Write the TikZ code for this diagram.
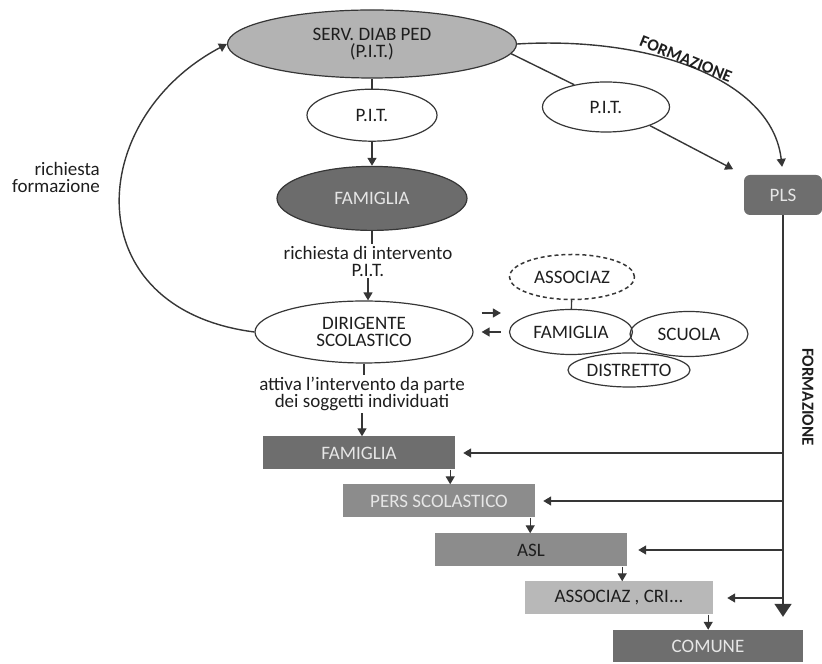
\documentclass[tikz,border=0pt]{standalone}
\usepackage{fontspec}
\setmainfont{Carlito}
\usetikzlibrary{shapes.geometric, arrows.meta, positioning}

\definecolor{lnc}{HTML}{363636}
\definecolor{servfill}{HTML}{B3B3B3}
\definecolor{darkfill}{HTML}{6C6C6C}
\definecolor{boxdark}{HTML}{6E6E6E}
\definecolor{boxmid}{HTML}{8C8C8C}
\definecolor{boxlight}{HTML}{B8B8B8}
\definecolor{lighttxt}{HTML}{E6E6E6}
\definecolor{txtdark}{HTML}{1E1E1E}

\begin{document}
\begin{tikzpicture}[
			x=1pt, y=1pt,
			font=\fontsize{19}{17}\selectfont,
			oval/.style={
				ellipse,
				draw=lnc,
				line width=1.2pt,
				inner sep=0pt,
				align=center,
				text=txtdark
			},
			box/.style={
				rectangle,
				minimum width=192pt,
				minimum height=33pt,
				inner sep=0pt,
				text=txtdark
			},
			arrow/.style={
				-{Triangle[length=8pt, width=9pt]},
				draw=lnc,
				line width=1.4pt
			},
			bigarrow/.style={
				-{Triangle[length=13pt, width=17pt]},
				draw=lnc,
				line width=1.8pt
			},
			link/.style={
				draw=lnc,
				line width=1.4pt
			},
			lbltext/.style={
				align=center,
				inner sep=2pt,
				text=txtdark
			}
			]
			
			\useasboundingbox (0,0) rectangle (822,664);
			
			% Central column
			\node[oval, fill=servfill, minimum width=289pt, minimum height=68pt] (serv) at (372,620) {SERV. DIAB PED\\(P.I.T.)};
			\node[oval, minimum width=130pt, minimum height=52pt, below=10pt of serv] (pit1) {P.I.T.};
			\node[oval, fill=darkfill, text=lighttxt, minimum width=190pt, minimum height=64pt, below=24pt of pit1] (fam1) {FAMIGLIA};
			\node[lbltext] (reqint) at (368,403) {richiesta di intervento\\P.I.T.};
			\node[oval, minimum width=218pt, minimum height=62pt] (dir) at (364,332) {DIRIGENTE\\SCOLASTICO};
			\node[lbltext] (attiva) at (362,270) {attiva l'intervento da parte\\dei soggetti individuati};
			
			\draw[link] (serv) -- (pit1);
			\draw[arrow] (pit1) -- (fam1);
			\draw[link] (fam1.south) -- (fam1.south |- reqint.north);
			\draw[arrow] (reqint.south) -- (reqint.south |- dir.north);
			\draw[link] (dir.south) -- (dir.south |- attiva.north);
			
			% Left loop
			\node[lbltext, anchor=east, align=right] (richform) at (102,487) {richiesta\\formazione};
			\draw[arrow] (dir.west) .. controls (75,355) and (85,545) .. (serv.west);
			
			% Right side
			\node[oval, minimum width=127pt, minimum height=50pt] (pit2) at (606,557) {P.I.T.};
			\node[box, fill=boxdark, text=lighttxt, rounded corners=6pt, minimum width=78pt, minimum height=40pt] (pls) at (783,469) {PLS};
			
			\draw[link] (serv.-4) -- (pit2.145);
			\draw[arrow, shorten >=12pt] (pit2.-23) -- (pls.north west);
			\draw[arrow, shorten >=8pt] (serv.east) .. controls (650,628) and (772,585) .. (pls.north);
			\node[font=\fontsize{17}{17}\selectfont\bfseries, text=txtdark, rotate=-22] (formtop) at (686,605) {FORMAZIONE};
			
			% Cluster
			\node[oval, dashed, dash pattern=on 4pt off 3pt, line width=1.5pt, minimum width=125pt, minimum height=45pt] (assoz) at (572,387) {ASSOCIAZ};
			\node[oval, minimum width=122pt, minimum height=34pt] (distr) at (629,294) {DISTRETTO};
			\node[oval, minimum width=123pt, minimum height=45pt] (famc) at (571,332) {FAMIGLIA};
			\node[oval, minimum width=118pt, minimum height=45pt] (scuola) at (689,330) {SCUOLA};
			\draw[link] (assoz) -- (famc);
			\draw[arrow] ([shift={(8,19)}]dir.east) -- ([shift={(-8,19)}]famc.west);
			\draw[arrow] ([xshift=-8pt]famc.west) -- ([xshift=8pt]dir.east);
			
			% Staircase of subjects
			\node[box, fill=boxdark, text=lighttxt] (famb) at (359,211) {FAMIGLIA};
			\node[box, fill=boxmid, text=lighttxt] (pers) at (439,163) {PERS SCOLASTICO};
			\node[box, fill=boxmid] (asl) at (531,114) {ASL};
			\node[box, fill=boxlight, minimum width=188pt] (assoc) at (619,66) {ASSOCIAZ , CRI...};
			\node[box, fill=boxdark, text=lighttxt, minimum width=190pt, minimum height=32pt] (comune) at (708,18) {COMUNE};
			
			\draw[arrow] (attiva.south) -- (attiva.south |- famb.north);
			\draw[arrow] ([xshift=-5pt]famb.south east) -- ([xshift=-5pt]famb.south east |- pers.north);
			\draw[arrow] ([xshift=-5pt]pers.south east) -- ([xshift=-5pt]pers.south east |- asl.north);
			\draw[arrow] ([xshift=-5pt]asl.south east) -- ([xshift=-5pt]asl.south east |- assoc.north);
			\draw[arrow] ([xshift=-5pt]assoc.south east) -- ([xshift=-5pt]assoc.south east |- comune.north);
			
			% Formazione from PLS
			\draw[bigarrow, shorten >=13pt] (pls.south) -- (pls.south |- comune.north);
			\node[font=\fontsize{17}{17}\selectfont\bfseries, text=txtdark, rotate=-90] (formside) at (808,267) {FORMAZIONE};
			\draw[arrow, shorten >=8pt] (pls.south |- famb.east) -- (famb.east);
			\draw[arrow, shorten >=8pt] (pls.south |- pers.east) -- (pers.east);
			\draw[arrow, shorten >=11pt] (pls.south |- asl.east) -- (asl.east);
			\draw[arrow, shorten >=14pt] (pls.south |- assoc.east) -- (assoc.east);
			
		\end{tikzpicture}
\end{document}
